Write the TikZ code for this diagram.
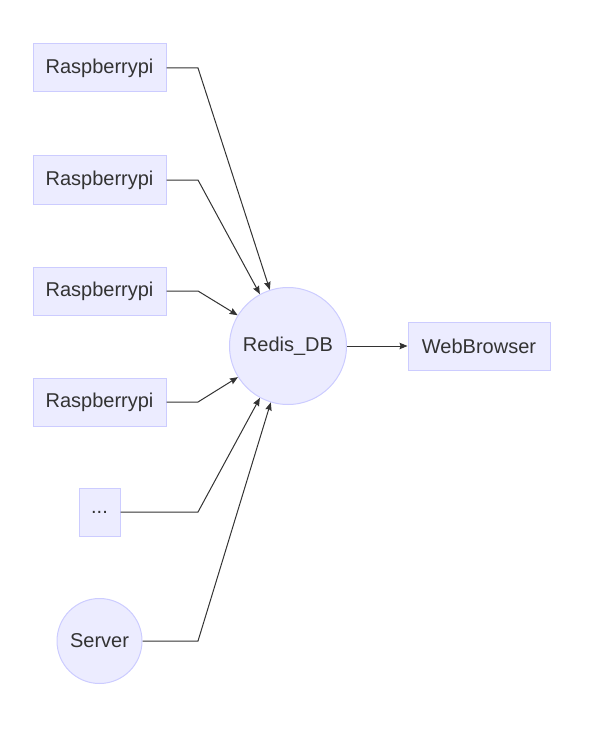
\documentclass[tikz,border=0pt]{standalone}
\usepackage{fontspec}
\setmainfont{Liberation Sans}
\usetikzlibrary{arrows.meta}
\definecolor{nodefill}{HTML}{ECECFF}
\definecolor{nodeline}{HTML}{CCCCFF}
\definecolor{ink}{HTML}{333333}
\tikzset{
  box/.style={draw=nodeline, fill=nodefill, line width=1pt, text=ink,
    font=\fontsize{20}{22}\selectfont, inner sep=0pt, minimum height=48pt},
  roundnode/.style={box, circle},
  edge/.style={draw=ink, line width=1pt, -{Stealth[length=8pt,width=6.5pt,inset=1pt]}}
}
\begin{document}
\begin{tikzpicture}[x=1pt,y=-1pt]
\useasboundingbox (0,0) rectangle (600,754);
\node[box, minimum width=133pt] (r1) at (99.5,68) {Raspberrypi};
\node[box, minimum width=133pt] (r2) at (99.5,180) {Raspberrypi};
\node[box, minimum width=133pt] (r3) at (99.5,291) {Raspberrypi};
\node[box, minimum width=133pt] (r4) at (99.5,402) {Raspberrypi};
\node[box, minimum width=41pt] (dots) at (99.5,512) {...};
\node[roundnode, minimum size=85pt] (server) at (99.5,641) {Server};
\node[roundnode, minimum size=117pt] (redis) at (288,346) {Redis\_DB};
\node[box, minimum width=142pt] (web) at (479,346) {WebBrowser};
\coordinate (b1) at (198,68);
\coordinate (b2) at (198,180);
\coordinate (b3) at (198,291);
\coordinate (b4) at (198,402);
\coordinate (b5) at (198,512);
\coordinate (b6) at (198,641);
\draw[edge] (r1.east) -- (b1) -- (redis);
\draw[edge] (r2.east) -- (b2) -- (redis);
\draw[edge] (r3.east) -- (b3) -- (redis);
\draw[edge] (r4.east) -- (b4) -- (redis);
\draw[edge] (dots.east) -- (b5) -- (redis);
\draw[edge] (server.east) -- (b6) -- (redis);
\draw[edge] (redis) -- (web);
\end{tikzpicture}
\end{document}
